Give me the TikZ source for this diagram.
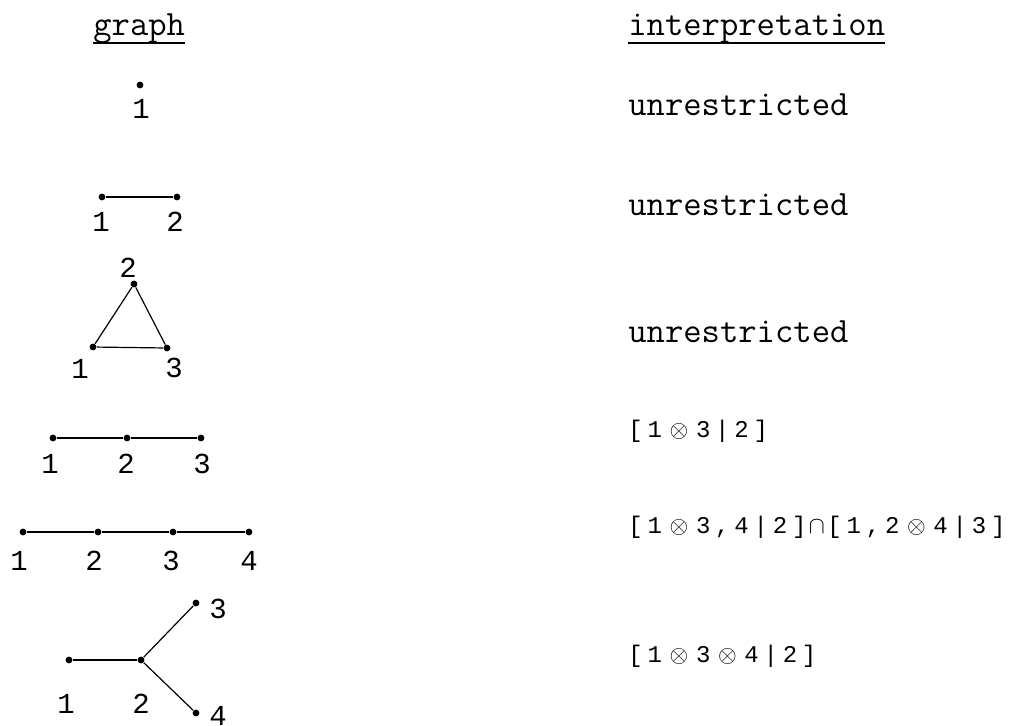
\documentclass[tikz,border=0pt]{standalone}
\usepackage{fontspec}
\newfontfamily\tw[LetterSpace=20]{Liberation Mono}
\newfontfamily\twlab{Liberation Mono}
\newcommand{\ox}{\makebox[17pt]{$\otimes$}}
\newcommand{\capx}{\makebox[10.5pt]{$\cap$}}
\tikzset{
  dot/.style={circle, fill=black, inner sep=0pt, minimum size=3.4pt},
  lab/.style={inner sep=0pt, font=\twlab\fontsize{14.5}{16}\selectfont},
  word/.style={inner sep=0pt, anchor=base west, font=\ttfamily\fontsize{17.8}{20}\selectfont},
  txt/.style={inner sep=0pt, anchor=base west, font=\tw\fontsize{12}{14}\selectfont},
  edge/.style={line width=0.6pt}
}
\begin{document}
\begin{tikzpicture}[x=0.5pt, y=-0.5pt]
\useasboundingbox (0,0) rectangle (1021,725);

% headings
\node[word] (hgraph) at (93,35) {graph};
\node[word] (hinter) at (628,35) {interpretation};
\draw[edge] ([yshift=-4pt]hgraph.base west) -- ([yshift=-4pt]hgraph.base east);
\draw[edge] ([yshift=-4pt]hinter.base west) -- ([yshift=-4pt]hinter.base east);

% one point
\node[dot] (a1) at (140,85) {};
\node[lab] (la1) at (141,109) {1};
\node[word] (ia) at (628,115) {unrestricted};

% two points
\node[dot] (b1) at (102,197) {};
\node[dot] (b2) at (177,197) {};
\node[lab] (lb1) at (101,222) {1};
\node[lab] (lb2) at (175,222) {2};
\draw[edge] (b1) -- (b2);
\node[word] (ib) at (628,215) {unrestricted};

% triangle
\node[dot] (c1) at (93,347) {};
\node[dot] (c2) at (134,284) {};
\node[dot] (c3) at (167,348) {};
\node[lab] (lc1) at (80,369) {1};
\node[lab] (lc2) at (128,268) {2};
\node[lab] (lc3) at (174,368) {3};
\draw[edge] (c1) -- (c2) -- (c3) -- (c1);
\node[word] (ic) at (628,342) {unrestricted};

% path of three
\node[dot] (d1) at (53,438) {};
\node[dot] (d2) at (127,438) {};
\node[dot] (d3) at (201,438) {};
\node[lab] (ld1) at (50,464) {1};
\node[lab] (ld2) at (126,464) {2};
\node[lab] (ld3) at (202,464) {3};
\draw[edge] (d1) -- (d2) -- (d3);
\node[txt] (id) at (628,437) {[1\ox3|2]};

% path of four
\node[dot] (e1) at (23,532) {};
\node[dot] (e2) at (98,532) {};
\node[dot] (e3) at (173,532) {};
\node[dot] (e4) at (249,532) {};
\node[lab] (le1) at (19,561) {1};
\node[lab] (le2) at (94,561) {2};
\node[lab] (le3) at (171,561) {3};
\node[lab] (le4) at (249,561) {4};
\draw[edge] (e1) -- (e2) -- (e3) -- (e4);
\node[txt] (ie) at (628,533) {[1\ox3,4|2]\capx[1,2\ox4|3]};

% star
\node[dot] (f1) at (69,660) {};
\node[dot] (f2) at (141,660) {};
\node[dot] (f3) at (196,603) {};
\node[dot] (f4) at (196,713) {};
\node[lab] (lf1) at (66,704) {1};
\node[lab] (lf2) at (141,704) {2};
\node[lab] (lf3) at (218,609) {3};
\node[lab] (lf4) at (218,716) {4};
\draw[edge] (f1) -- (f2);
\draw[edge] (f2) -- (f3);
\draw[edge] (f2) -- (f4);
\node[txt] (if) at (628,662) {[1\ox3\ox4|2]};
\end{tikzpicture}
\end{document}
